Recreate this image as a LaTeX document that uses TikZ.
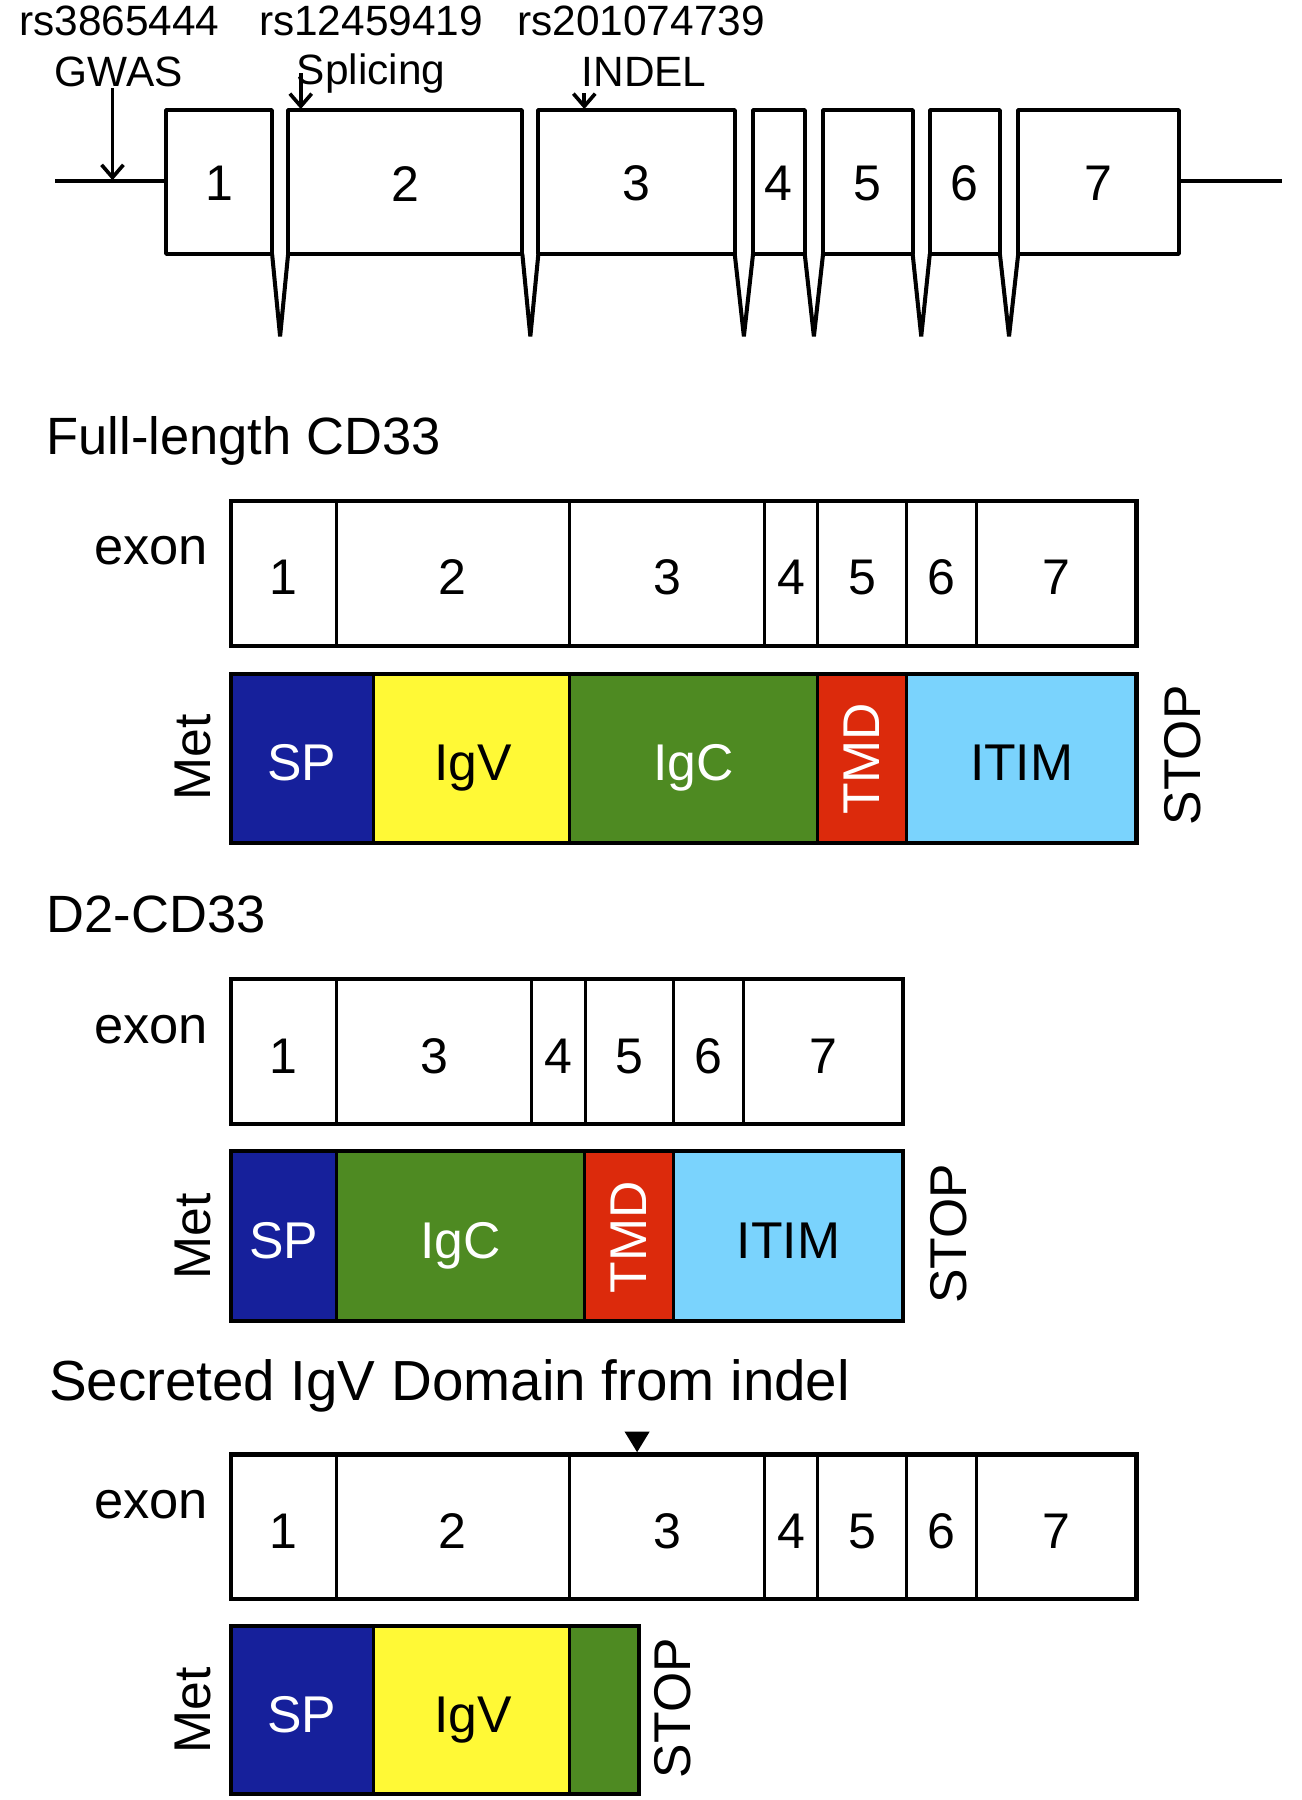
\documentclass[tikz,border=0pt]{standalone}
\usepackage{fontspec}
\setmainfont{Liberation Sans}
\usetikzlibrary{arrows.meta}

\definecolor{spblue}{HTML}{16209B}
\definecolor{igvyellow}{HTML}{FFF936}
\definecolor{igcgreen}{HTML}{4E8A22}
\definecolor{tmdred}{HTML}{DC2A0C}
\definecolor{itimblue}{HTML}{7AD3FD}

\begin{document}
\begin{tikzpicture}[x=0.01cm,y=-0.01cm,
	gene/.style={line width=1pt,line join=bevel},
	bar/.style={line width=1pt},
	divider/.style={line width=0.75pt},
	snp/.style={line width=0.9pt,-{Straight Barb[length=1.1mm,width=1.9mm,line width=0.9pt]}},
	lab/.style={inner sep=0pt,anchor=base west,font=\fontsize{10.5}{12}\selectfont},
	num/.style={inner sep=0pt,font=\fontsize{12.4}{14}\selectfont},
	dom/.style={inner sep=0pt,font=\fontsize{12.8}{15}\selectfont},
	exonlab/.style={inner sep=0pt,anchor=base east,font=\fontsize{13}{15}\selectfont}]

	\useasboundingbox (0,0) rectangle (1134,1568);

	% gene structure
	\draw[gene] (48,158) -- (145,158);
	\draw[gene] (1027,158) -- (1117,158);
	\foreach \a/\b/\n in {145/237/1,251/455/2,469/640/3,656/701/4,717/795/5,810/871/6,887/1027/7}{
		\draw[gene] (\a,96) rectangle (\b,221);
		\node[num] (gx\n) at ({(\a+\b)/2},160) {\n};
	}
	\foreach \a/\b in {237/251,455/469,640/656,701/717,795/810,871/887}
		\draw[gene] (\a,221) -- ({(\a+\b)/2},293) -- (\b,221);

	\node[lab] (rsgwas) at (16,30.5) {rs3865444};
	\node[lab] (rssplice) at (225,30.5) {rs12459419};
	\node[lab] (rsindel) at (450,30.5) {rs201074739};
	\node[lab] (gwas) at (47,75) {GWAS};
	\node[lab] (splice) at (258,74) {Splicing};
	\node[lab] (indel) at (506,75) {INDEL};

	\coordinate (gwasfrom) at (98,77);
	\coordinate (gwasto) at (98,157);
	\coordinate (splicefrom) at (262,64);
	\coordinate (spliceto) at (262,95);
	\coordinate (indelfrom) at (509,81);
	\coordinate (indelto) at (509,95);
	\draw[snp] (gwasfrom) -- (gwasto);
	\draw[snp] (splicefrom) -- (spliceto);
	\draw[snp] (indelfrom) -- (indelto);

	% full-length CD33
	\node[inner sep=0pt,anchor=base west,font=\fontsize{13}{15}\selectfont] (fltitle) at (40,396) {Full-length CD33};
	\node[exonlab] (flexon) at (182,492) {exon};
	\foreach \a/\b/\n in {201/293/1,293/496/2,496/666/3,666/712/4,712/790/5,790/851/6,851/990/7}{
		\draw[divider] (\a,436) rectangle (\b,563);
		\node[num] (fl\n) at ({(\a+\b)/2},503) {\n};
	}
	\draw[bar] (201,436) rectangle (990,563);

	\filldraw[divider,fill=spblue] (201,587) rectangle (325,734);
	\filldraw[divider,fill=igvyellow] (325,587) rectangle (496,734);
	\filldraw[divider,fill=igcgreen] (496,587) rectangle (712,734);
	\filldraw[divider,fill=tmdred] (712,587) rectangle (790,734);
	\filldraw[divider,fill=itimblue] (790,587) rectangle (990,734);
	\draw[bar] (201,587) rectangle (990,734);
	\node[dom,anchor=base,text=white] (flsp) at (263,680) {SP};
	\node[dom,anchor=base] (fligv) at (412,680) {IgV};
	\node[dom,anchor=base,text=white] (fligc) at (604,680) {IgC};
	\node[dom,rotate=90,text=white] (fltmd) at (751,661) {TMD};
	\node[dom,anchor=base] (flitim) at (890,680) {ITIM};
	\node[dom,rotate=90] (flmet) at (168,660) {Met};
	\node[dom,rotate=90] (flstop) at (1030,658) {STOP};

	% D2-CD33
	\node[inner sep=0pt,anchor=base west,font=\fontsize{13}{15}\selectfont] (dtitle) at (40,812) {D2-CD33};
	\node[exonlab] (dexon) at (182,909) {exon};
	\foreach \a/\b/\n in {201/293/1,293/463/3,463/510/4,510/587/5,587/648/6,648/787/7}{
		\draw[divider] (\a,853) rectangle (\b,979);
		\node[num] (d\n) at ({(\a+\b)/2},920) {\n};
	}
	\draw[bar] (201,853) rectangle (787,979);

	\filldraw[divider,fill=spblue] (201,1003) rectangle (293,1151);
	\filldraw[divider,fill=igcgreen] (293,1003) rectangle (509,1151);
	\filldraw[divider,fill=tmdred] (509,1003) rectangle (587,1151);
	\filldraw[divider,fill=itimblue] (587,1003) rectangle (787,1151);
	\draw[bar] (201,1003) rectangle (787,1151);
	\node[dom,anchor=base,text=white] (dsp) at (247,1096.5) {SP};
	\node[dom,anchor=base,text=white] (digc) at (401,1096.5) {IgC};
	\node[dom,rotate=90,text=white] (dtmd) at (548,1078) {TMD};
	\node[dom,anchor=base] (ditim) at (687,1096.5) {ITIM};
	\node[dom,rotate=90] (dmet) at (168,1077) {Met};
	\node[dom,rotate=90] (dstop) at (826,1075) {STOP};

	% secreted IgV
	\node[inner sep=0pt,anchor=base west,font=\fontsize{14}{17}\selectfont] (stitle) at (42,1220) {Secreted IgV Domain from indel};
	\node[exonlab] (sexon) at (182,1323) {exon};
	\foreach \a/\b/\n in {201/293/1,293/496/2,496/666/3,666/712/4,712/790/5,790/851/6,851/990/7}{
		\draw[divider] (\a,1267) rectangle (\b,1393);
		\node[num] (s\n) at ({(\a+\b)/2},1334) {\n};
	}
	\draw[bar] (201,1267) rectangle (990,1393);
	\fill (544,1247) -- (566,1247) -- (555,1265) -- cycle;

	\filldraw[divider,fill=spblue] (201,1416) rectangle (325,1563);
	\filldraw[divider,fill=igvyellow] (325,1416) rectangle (496,1563);
	\filldraw[divider,fill=igcgreen] (496,1416) rectangle (557,1563);
	\draw[bar] (201,1416) rectangle (557,1563);
	\node[dom,anchor=base,text=white] (ssp) at (263,1509) {SP};
	\node[dom,anchor=base] (sigv) at (412,1509) {IgV};
	\node[dom,rotate=90] (smet) at (168,1490) {Met};
	\node[dom,rotate=90] (sstop) at (586,1488) {STOP};

\end{tikzpicture}
\end{document}
